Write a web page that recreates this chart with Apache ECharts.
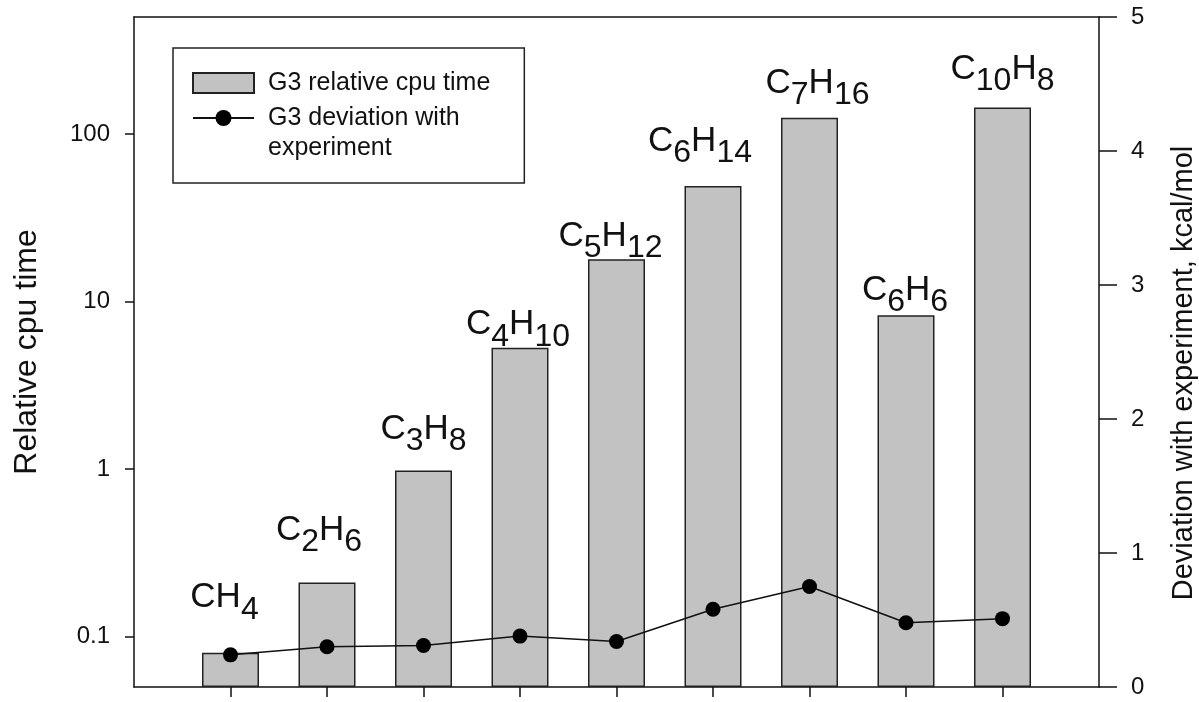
<!DOCTYPE html>
<html>
<head>
<meta charset="utf-8">
<script src="https://cdn.jsdelivr.net/npm/echarts@6/dist/echarts.min.js"></script>
<style>
  html, body { margin: 0; background: #fff; }
  #chart { width: 1199px; height: 702px; }
</style>
</head>
<body>
<div id="chart"></div>
<script>
const molecules = ["CH4", "C2H6", "C3H8", "C4H10", "C5H12", "C6H14", "C7H16", "C6H6", "C10H8"];
const cpuTime = [0.08, 0.21, 0.98, 5.3, 17.9, 49, 125, 8.3, 144];
const deviation = [0.24, 0.3, 0.31, 0.38, 0.34, 0.58, 0.75, 0.48, 0.51];
const cpuTicks = [0.1, 1, 10, 100];

// formula labels were placed by hand in the original: px above bar top, px sideways
const labelLift = [35, 32, 21, 3, 3, 25, 15, 5, 18];
const labelShift = [-6, -8, 0, -2, -6, -13, 8, -1, 0];

const FONT = "Liberation Sans";
const INK = "#111";
const barName = "G3 relative cpu time";
const lineName = "G3 deviation with experiment";

// one empty slot each side so the bars sit on the same pitch as the frame
const slots = ["", ...molecules, ""];

function formula(s) {
  return s.replace(/([A-Z]+)|(\d+)/g, (m, a, d) => (a ? `{m|${a}}` : `{s|${d}}`));
}

const chart = echarts.init(document.getElementById("chart"), null, { renderer: "canvas" });

chart.setOption({
  animation: false,
  textStyle: { fontFamily: FONT, color: INK },
  grid: { left: 134, right: 100, top: 17, bottom: 15, outerBoundsMode: "none" },
  legend: {
    orient: "vertical",
    left: 173,
    top: 48,
    padding: [20, 34, 20, 19],
    borderColor: "#222",
    borderWidth: 1.5,
    itemWidth: 61,
    itemHeight: 20,
    itemGap: -25,
    textStyle: { fontSize: 25, lineHeight: 30, color: INK, fontFamily: FONT, padding: [0, 0, 0, 9] },
    // leading blank line keeps the marker level with the first text line
    formatter: (n) => (n === lineName ? "\nG3 deviation with\nexperiment" : n),
    data: [
      { name: barName, icon: "rect" },
      { name: lineName },
    ],
  },
  xAxis: [
    {
      type: "category",
      data: slots,
      boundaryGap: false,
      axisLine: { lineStyle: { color: INK, width: 1.5 } },
      axisTick: { length: 10, interval: (i) => i > 0 && i < slots.length - 1, lineStyle: { color: INK, width: 1.5 } },
      axisLabel: { show: false },
      splitLine: { show: false },
    },
    {
      type: "category",
      data: slots,
      position: "top",
      boundaryGap: false,
      axisLine: { lineStyle: { color: INK, width: 1.5 } },
      axisTick: { show: false },
      axisLabel: { show: false },
    },
  ],
  yAxis: [
    {
      type: "log",
      min: 0.05,
      max: 500,
      startValue: 0.05,
      name: "Relative cpu time",
      nameLocation: "middle",
      nameGap: 91,
      nameTextStyle: { fontSize: 32, color: INK, fontFamily: FONT },
      axisLine: { show: true, lineStyle: { color: INK, width: 1.5 } },
      axisTick: { show: true, length: 9, customValues: cpuTicks, lineStyle: { color: INK, width: 1.5 } },
      axisLabel: { fontSize: 24, margin: 24, color: INK, customValues: cpuTicks },
      splitLine: { show: false },
    },
    {
      type: "value",
      min: 0,
      max: 5,
      interval: 1,
      position: "right",
      name: "Deviation with experiment, kcal/mol",
      nameLocation: "middle",
      nameGap: 70,
      nameTextStyle: { fontSize: 29, color: INK, fontFamily: FONT, padding: [0, 42, 0, 0] },
      axisLine: { show: true, lineStyle: { color: INK, width: 1.5 } },
      axisTick: { show: true, length: 18, lineStyle: { color: INK, width: 1.5 } },
      axisLabel: { fontSize: 24, margin: 32, color: INK },
      splitLine: { show: false },
    },
  ],
  series: [
    {
      name: barName,
      type: "bar",
      xAxisIndex: 0,
      yAxisIndex: 0,
      barWidth: 57,
      itemStyle: { color: "#c2c2c2", borderColor: "#222", borderWidth: 1.5 },
      label: {
        show: true,
        position: "top",
        formatter: (p) => formula(p.name),
        rich: {
          m: { fontSize: 35, lineHeight: 40, color: INK, fontFamily: FONT },
          s: { fontSize: 32, lineHeight: 36, padding: [24, 0, 0, 0], color: INK, fontFamily: FONT },
        },
      },
      data: [
        null,
        ...cpuTime.map((v, i) => ({
          value: v,
          label: { distance: labelLift[i], offset: [labelShift[i], 0] },
        })),
        null,
      ],
    },
    {
      name: lineName,
      type: "line",
      xAxisIndex: 0,
      yAxisIndex: 1,
      symbol: "circle",
      symbolSize: 15,
      z: 5,
      itemStyle: { color: "#000" },
      lineStyle: { color: "#111", width: 1.5 },
      data: [null, ...deviation, null],
    },
  ],
});
</script>
</body>
</html>
